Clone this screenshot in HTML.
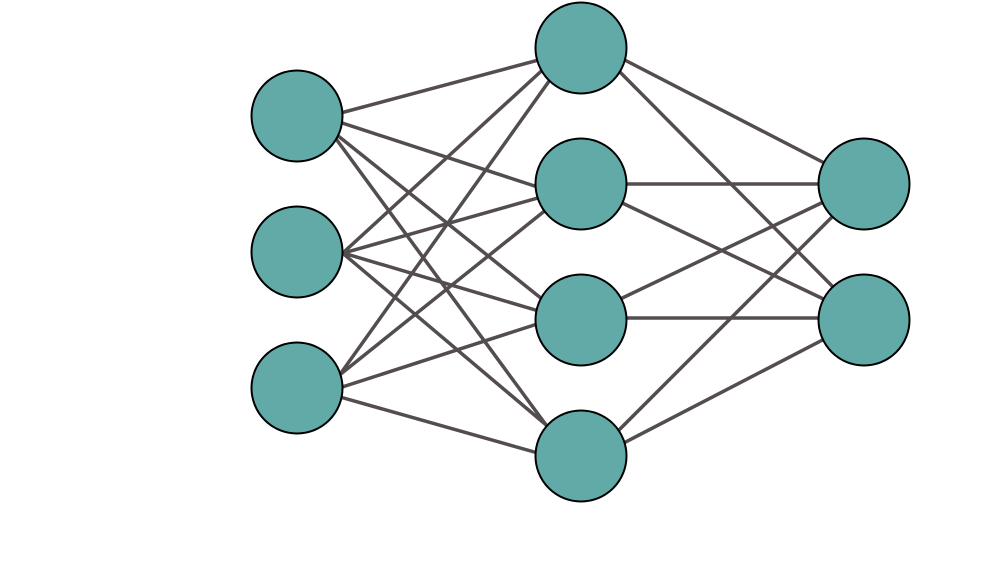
<!DOCTYPE html>
<html><head><style>html,body{margin:0;padding:0;background:#fff;}svg{display:block}</style></head>
<body>
<svg width="990" height="588" viewBox="0 0 990 588" xmlns="http://www.w3.org/2000/svg">
<g stroke="#544d4f" stroke-width="3.5">
<!-- input 1 -->
<line x1="333" y1="115" x2="561" y2="54"/>
<line x1="333" y1="120" x2="559" y2="194"/>
<line x1="332" y1="131" x2="557" y2="311"/>
<line x1="331" y1="132" x2="560" y2="444"/>
<!-- input 2 -->
<line x1="333" y1="262" x2="561" y2="53"/>
<line x1="333" y1="256" x2="559" y2="192"/>
<line x1="333" y1="250" x2="559" y2="317"/>
<line x1="333" y1="245" x2="564" y2="440"/>
<!-- input 3 -->
<line x1="336" y1="380" x2="562" y2="63"/>
<line x1="332" y1="381" x2="562" y2="197"/>
<line x1="333" y1="390" x2="559" y2="317"/>
<line x1="333" y1="395" x2="559" y2="459"/>
<!-- hidden to output -->
<line x1="615" y1="55" x2="836" y2="169"/>
<line x1="613" y1="65" x2="840" y2="294"/>
<line x1="620" y1="184" x2="835" y2="184"/>
<line x1="614" y1="199" x2="836" y2="305"/>
<line x1="614" y1="302" x2="836" y2="196"/>
<line x1="620" y1="318" x2="835" y2="318"/>
<line x1="613" y1="436" x2="842" y2="207"/>
<line x1="616" y1="447" x2="836" y2="333"/>
</g>
<g fill="#62aaa7" stroke="#000" stroke-width="2">
<circle cx="297" cy="116" r="45.5"/>
<circle cx="297" cy="252" r="45.5"/>
<circle cx="297" cy="388" r="45.5"/>
<circle cx="581" cy="48" r="45.5"/>
<circle cx="581" cy="184" r="45.5"/>
<circle cx="581" cy="320" r="45.5"/>
<circle cx="581" cy="456" r="45.5"/>
<circle cx="864" cy="184" r="45.5"/>
<circle cx="864" cy="320" r="45.5"/>
</g>
</svg>
</body></html>
